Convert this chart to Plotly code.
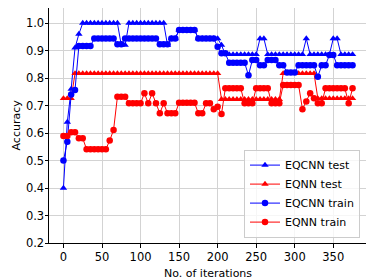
import plotly.graph_objects as go

# ── data ─────────────────────────────────────────────────────────────────────
iterations = list(range(0, 376, 5))

eqcnn_test = [
    0.40, 0.64, 0.76, 0.91, 0.96,
    1.0, 1.0, 1.0, 1.0, 1.0, 1.0, 1.0, 1.0, 1.0, 1.0,
    0.92, 0.92,
    1.0, 1.0, 1.0, 1.0, 1.0, 1.0, 1.0, 1.0, 1.0, 1.0,
    0.92, 0.944, 0.944,
    0.975, 0.975, 0.975, 0.975, 0.975,
    0.944, 0.944, 0.944, 0.944, 0.944, 0.944,
    0.92,
    0.886, 0.886, 0.886, 0.886, 0.886, 0.886, 0.886, 0.886,
    0.886, 0.944, 0.944,
    0.886, 0.886, 0.886, 0.886, 0.886, 0.886, 0.886, 0.886, 0.886, 0.886,
    0.944,
    0.886, 0.886, 0.886, 0.886, 0.886, 0.886,
    0.944, 0.944,
    0.886, 0.886, 0.886, 0.886,
]

eqnn_test = [
    0.726, 0.726, 0.726,
    0.817, 0.817, 0.817, 0.817, 0.817, 0.817, 0.817, 0.817, 0.817, 0.817,
    0.817, 0.817, 0.817, 0.817, 0.817, 0.817, 0.817, 0.817, 0.817, 0.817,
    0.817, 0.817, 0.817, 0.817, 0.817, 0.817, 0.817, 0.817, 0.817, 0.817,
    0.817, 0.817, 0.817, 0.817, 0.817, 0.817, 0.817, 0.817,
    0.723, 0.723, 0.723, 0.723, 0.723, 0.723, 0.723, 0.723,
    0.723, 0.723, 0.723, 0.723, 0.723, 0.723, 0.723, 0.723,
    0.817, 0.817, 0.817, 0.817, 0.817, 0.817, 0.817, 0.817, 0.817,
    0.726, 0.726, 0.726, 0.726, 0.726, 0.726, 0.726, 0.726, 0.726, 0.726,
]

eqcnn_train = [
    0.50, 0.568, 0.74, 0.757,
    0.917, 0.917, 0.917, 0.917,
    0.944, 0.944, 0.944, 0.944, 0.944, 0.944,
    0.923, 0.923,
    0.944, 0.944, 0.944, 0.944, 0.944, 0.944, 0.944, 0.944, 0.944,
    0.923, 0.923, 0.923,
    0.944, 0.944,
    0.975, 0.975, 0.975, 0.975, 0.975,
    0.944, 0.944, 0.944, 0.944, 0.944,
    0.914, 0.89, 0.89,
    0.856, 0.856, 0.856, 0.856, 0.856,
    0.81, 0.866, 0.866, 0.847, 0.847, 0.866, 0.866, 0.866,
    0.847, 0.847, 0.82, 0.82, 0.82, 0.847,
    0.847, 0.847, 0.847, 0.847,
    0.805, 0.847, 0.847, 0.884, 0.884,
    0.847, 0.847, 0.847, 0.847, 0.847,
]

eqnn_train = [
    0.589, 0.589, 0.603, 0.603, 0.581, 0.581,
    0.541, 0.541, 0.541, 0.541, 0.541, 0.541,
    0.573, 0.611,
    0.732, 0.732, 0.732,
    0.708, 0.708, 0.708, 0.708,
    0.745, 0.708, 0.745, 0.708, 0.672, 0.708,
    0.672, 0.672, 0.672,
    0.71, 0.71, 0.71, 0.71, 0.71,
    0.672, 0.672,
    0.708, 0.708, 0.687, 0.696, 0.669,
    0.763, 0.763, 0.763, 0.763, 0.763,
    0.708, 0.708, 0.708,
    0.763, 0.763, 0.763, 0.763,
    0.708, 0.708, 0.708,
    0.775, 0.775, 0.775, 0.775, 0.775,
    0.687, 0.715, 0.745, 0.727, 0.708, 0.708,
    0.763, 0.763, 0.763, 0.763, 0.763, 0.763,
    0.708, 0.763,
]

x_ticks = [0, 50, 100, 150, 200, 250, 300, 350]
y_ticks = [0.2, 0.3, 0.4, 0.5, 0.6, 0.7, 0.8, 0.9, 1.0]

# ── figure ───────────────────────────────────────────────────────────────────
# the page body keeps its default 8px margin, so the figure is sized and
# offset to land the axes where they sit in the reference
series = [
    ("EQCNN test", eqcnn_test, "blue", "triangle-up"),
    ("EQNN test", eqnn_test, "red", "triangle-up"),
    ("EQCNN train", eqcnn_train, "blue", "circle"),
    ("EQNN train", eqnn_train, "red", "circle"),
]

fig = go.Figure()
for name, vals, color, symbol in series:
    fig.add_trace(go.Scatter(
        x=iterations, y=vals,
        mode="lines+markers",
        name=name,
        line=dict(color=color, width=1),
        marker=dict(color=color, symbol=symbol, size=6.5),
    ))

axis_common = dict(
    showline=True, mirror=True, linecolor="black", linewidth=1,
    ticks="outside", ticklen=3.5, tickcolor="black", tickwidth=1,
    showgrid=True, gridcolor="#d3d3d3", gridwidth=1,
    zeroline=False, automargin=False,
    tickfont=dict(size=11.5, color="black"),
)

fig.update_layout(
    width=366, height=272,
    margin=dict(l=41, r=7, t=0, b=37),
    paper_bgcolor="white", plot_bgcolor="white",
    font=dict(family="DejaVu Sans", size=11, color="black"),
    xaxis=dict(range=[-18.75, 393.75], tickvals=x_ticks, **axis_common),
    yaxis=dict(range=[0.2, 1.055], tickvals=y_ticks, tickformat=".1f",
               ticklabelstandoff=-2, **axis_common),
    legend=dict(
        x=0.978, y=0.023, xanchor="right", yanchor="bottom",
        bgcolor="rgba(255,255,255,0.8)", bordercolor="#cccccc", borderwidth=1,
        font=dict(size=11), itemwidth=30,
    ),
    showlegend=True,
    annotations=[
        dict(text="No. of iterations", xref="paper", yref="paper",
             x=0.5, y=0, xanchor="center", yanchor="middle", yshift=-30,
             showarrow=False, font=dict(size=11)),
        dict(text="Accuracy", xref="paper", yref="paper",
             x=0, y=0.5, xanchor="center", yanchor="middle", xshift=-33,
             textangle=-90, showarrow=False, font=dict(size=11)),
    ],
)

fig.write_html("out.html")
